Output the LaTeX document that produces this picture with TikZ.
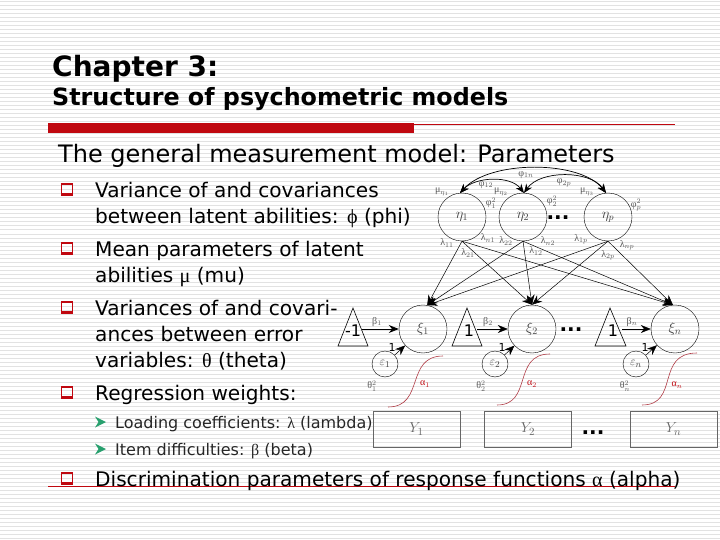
\documentclass[tikz,border=0pt]{standalone}
\usepackage{fontspec}
\setmainfont{DejaVu Sans}
\newfontfamily\symfont{Liberation Serif}
\usetikzlibrary{arrows.meta}
\definecolor{barred}{RGB}{192,8,16}
\definecolor{stripegray}{RGB}{226,226,226}
\definecolor{curvered}{RGB}{176,60,70}
\definecolor{arrowgreen}{RGB}{40,160,110}
\tikzset{
  latent/.style={draw, circle, minimum size=48pt, inner sep=0pt, font=\symfont\fontsize{14}{14}\selectfont, text=black!75},
  small err/.style={draw, circle, minimum size=26pt, inner sep=0pt, font=\symfont\fontsize{13}{13}\selectfont, text=black!75},
  item box/.style={draw=black!60, line width=0.7pt, minimum width=87pt, minimum height=36pt, inner sep=0pt, font=\symfont\fontsize{15}{15}\selectfont, text=black!60},
  plabel/.style={font=\symfont\fontsize{10}{10}\selectfont, text=black!65, inner sep=0pt},
  body/.style={anchor=base west, inner sep=0pt, font=\fontsize{20.1}{20}\selectfont},
  sub/.style={anchor=base west, inner sep=0pt, text=black!85, font=\fontsize{16}{16}\selectfont},
  dots/.style={inner sep=0pt, font=\bfseries\fontsize{20}{20}\selectfont},
  load/.style={-{Stealth[length=10pt,width=8pt]}, line width=0.5pt},
  cov/.style={{Stealth[length=9pt,width=7pt]}-{Stealth[length=9pt,width=7pt]}, line width=0.7pt},
  sigmoid/.style={curvered, line width=0.6pt},
  tri/.style={draw, line width=0.6pt},
  trilabel/.style={inner sep=0pt, font=\fontsize{16}{16}\selectfont},
  onelabel/.style={inner sep=0pt, font=\fontsize{11}{11}\selectfont},
}
% hollow square bullet and green arrow bullet
\newcommand{\sqbullet}[1]{\draw[barred, line width=1.3pt] (61.5,#1-5) rectangle (72.5,#1+6); \fill[barred] (60.8,#1+4) rectangle (73.2,#1+7);}
\newcommand{\arrbullet}[1]{\fill[arrowgreen] (95,#1-5.5) -- (106,#1) -- (95,#1+5.5) -- (98.5,#1) -- cycle;}
\begin{document}
\begin{tikzpicture}[x=1pt, y=-1pt]
  \useasboundingbox (0,0) rectangle (720,540);
  % background stripes
  \foreach \yy in {2,6,...,538}
    \draw[stripegray, line width=1pt] (0,\yy) -- (720,\yy);

  % title and rule
  \node[anchor=base west, inner sep=0pt, font=\bfseries\fontsize{28}{28}\selectfont] (title) at (52,77) {Chapter 3:};
  \node[anchor=base west, inner sep=0pt, font=\bfseries\fontsize{23.8}{24}\selectfont] (subtitle) at (52,106) {Structure of psychometric models};
  \fill[barred] (48,123.5) rectangle (414,133);
  \draw[barred, line width=0.6pt] (414,124) -- (675,124);
  \node[anchor=base west, inner sep=0pt, font=\fontsize{24}{24}\selectfont] (heading) at (58,163) {The general measurement model: Parameters};

  % bullets
  \sqbullet{189}
  \node[body] (b1a) at (95,197) {Variance of and covariances};
  \node[body] (b1b) at (95,223) {between latent abilities: {\symfont ϕ} (phi)};
  \sqbullet{248}
  \node[body] (b2a) at (95,256) {Mean parameters of latent};
  \node[body] (b2b) at (95,282) {abilities {\symfont μ} (mu)};
  \sqbullet{307}
  \node[body] (b3a) at (95,315) {Variances of and covari-};
  \node[body] (b3b) at (95,341) {ances between error};
  \node[body] (b3c) at (95,367) {variables: {\symfont θ} (theta)};
  \sqbullet{392}
  \node[body] (b4) at (95,400) {Regression weights:};
  \arrbullet{422}
  \node[sub] (s1) at (115,428) {Loading coefficients: {\symfont λ} (lambda)};
  \arrbullet{449}
  \node[sub] (s2) at (115,455) {Item difficulties: {\symfont β} (beta)};
  \sqbullet{478}
  \draw[barred, line width=0.8pt] (48,486.5) -- (675,486.5);
  \node[body] (b5) at (95,486) {Discrimination parameters of response functions {\symfont α} (alpha)};

  % latent abilities
  \node[latent] (eta1) at (462,217) {$\eta_1$};
  \node[latent] (eta2) at (523,217) {$\eta_2$};
  \node[latent] (etap) at (608,217) {$\eta_p$};
  \node[dots] (dotsa) at (558,218) {...};
  \coordinate (top1) at (460,193);
  \coordinate (top2) at (524,193);
  \coordinate (topp) at (606,193);
  \draw[cov] (top1) .. controls (475,177) and (510,175) .. (top2);
  \draw[cov] (top2) .. controls (540,170) and (590,170) .. (topp);
  \draw[cov] (top1) .. controls (490,160) and (580,160) .. (topp);
  \node[plabel] (phi1n) at (526,175) {{\symfont φ}$_{1n}$};
  \node[plabel] (phi12) at (486,185) {{\symfont φ}$_{12}$};
  \node[plabel] (phi2p) at (564,183) {{\symfont φ}$_{2p}$};
  \node[plabel] (mu1) at (442,192) {{\symfont μ}$_{\eta_1}$};
  \node[plabel] (mu2) at (501,192) {{\symfont μ}$_{\eta_2}$};
  \node[plabel] (mup) at (587,192) {{\symfont μ}$_{\eta_3}$};
  \node[plabel] (var1) at (491,203) {{\symfont φ}$^2_1$};
  \node[plabel] (var2) at (552,201) {{\symfont φ}$^2_2$};
  \node[plabel] (varp) at (636,205) {{\symfont φ}$^2_p$};

  % latent traits
  \node[latent] (xi1) at (423,329) {$\xi_1$};
  \node[latent] (xi2) at (532,329) {$\xi_2$};
  \node[latent] (xin) at (675,329) {$\xi_n$};
  \node[dots] (dotsb) at (571,330) {...};

  % loadings
  \foreach \from in {eta1,eta2,etap} {
    \draw[load] (\from.south) -- (xi1.80);
    \draw[load] (\from.south) -- (xi2.north);
    \draw[load] (\from.south) -- (xin.95);
  }
  \node[plabel] (l11) at (447,243) {{\symfont λ}$_{11}$};
  \node[plabel] (l21) at (468,253) {{\symfont λ}$_{21}$};
  \node[plabel] (ln1) at (488,238) {{\symfont λ}$_{n1}$};
  \node[plabel] (l22) at (506,241) {{\symfont λ}$_{22}$};
  \node[plabel] (l12) at (536,251) {{\symfont λ}$_{12}$};
  \node[plabel] (ln2) at (548,241) {{\symfont λ}$_{n2}$};
  \node[plabel] (l1p) at (581,239) {{\symfont λ}$_{1p}$};
  \node[plabel] (l2p) at (608,255) {{\symfont λ}$_{2p}$};
  \node[plabel] (lnp) at (627,245) {{\symfont λ}$_{np}$};

  % intercept triangles
  \draw[tri] (338,346) -- (353,308) -- (368,346) -- cycle;
  \draw[tri] (452,346) -- (467,308) -- (482,346) -- cycle;
  \draw[tri] (595,346) -- (610,308) -- (626,346) -- cycle;
  \node[trilabel] (tri1) at (353,331) {-1};
  \node[trilabel] (tri2) at (469,331) {1};
  \node[trilabel] (trin) at (613,331) {1};
  \coordinate (tri1r) at (362,329);
  \coordinate (tri2r) at (477,329);
  \coordinate (trinr) at (622,329);
  \draw[load, line width=0.9pt] (tri1r) -- (xi1);
  \draw[load] (tri2r) -- (xi2);
  \draw[load] (trinr) -- (xin);
  \node[plabel] (beta1) at (377,322) {{\symfont β}$_1$};
  \node[plabel] (beta2) at (488,322) {{\symfont β}$_2$};
  \node[plabel] (betan) at (632,322) {{\symfont β}$_n$};

  % errors
  \node[small err] (e1) at (385,364) {$\varepsilon_1$};
  \node[small err] (e2) at (495,364) {$\varepsilon_2$};
  \node[small err] (en) at (636,364) {$\varepsilon_n$};
  \draw[load] (e1) -- (xi1);
  \draw[load] (e2) -- (xi2);
  \draw[load] (en) -- (xin);
  \node[onelabel] (one1) at (392,347) {1};
  \node[onelabel] (one2) at (502,347) {1};
  \node[onelabel] (onen) at (645,347) {1};
  \node[plabel] (th1) at (372,386) {{\symfont θ}$^2_1$};
  \node[plabel] (th2) at (481,386) {{\symfont θ}$^2_2$};
  \node[plabel] (thn) at (625,386) {{\symfont θ}$^2_n$};

  % response functions
  \draw[sigmoid] (388,407) .. controls (425,407) and (405,356) .. (443,356);
  \draw[sigmoid] (497,405) .. controls (533,405) and (512,354) .. (550,354);
  \draw[sigmoid] (642,405) .. controls (680,405) and (655,353) .. (697,353);
  \node[plabel, text=barred] (a1) at (425,384) {{\symfont α}$_1$};
  \node[plabel, text=barred] (a2) at (532,384) {{\symfont α}$_2$};
  \node[plabel, text=barred] (an) at (677,385) {{\symfont α}$_n$};

  % items
  \node[item box] (y1) at (416.5,429) {$Y_1$};
  \node[item box] (y2) at (528,429) {$Y_2$};
  \node[item box] (yn) at (673.5,429) {$Y_n$};
  \node[dots] (dotsc) at (593,433) {...};
\end{tikzpicture}
\end{document}
